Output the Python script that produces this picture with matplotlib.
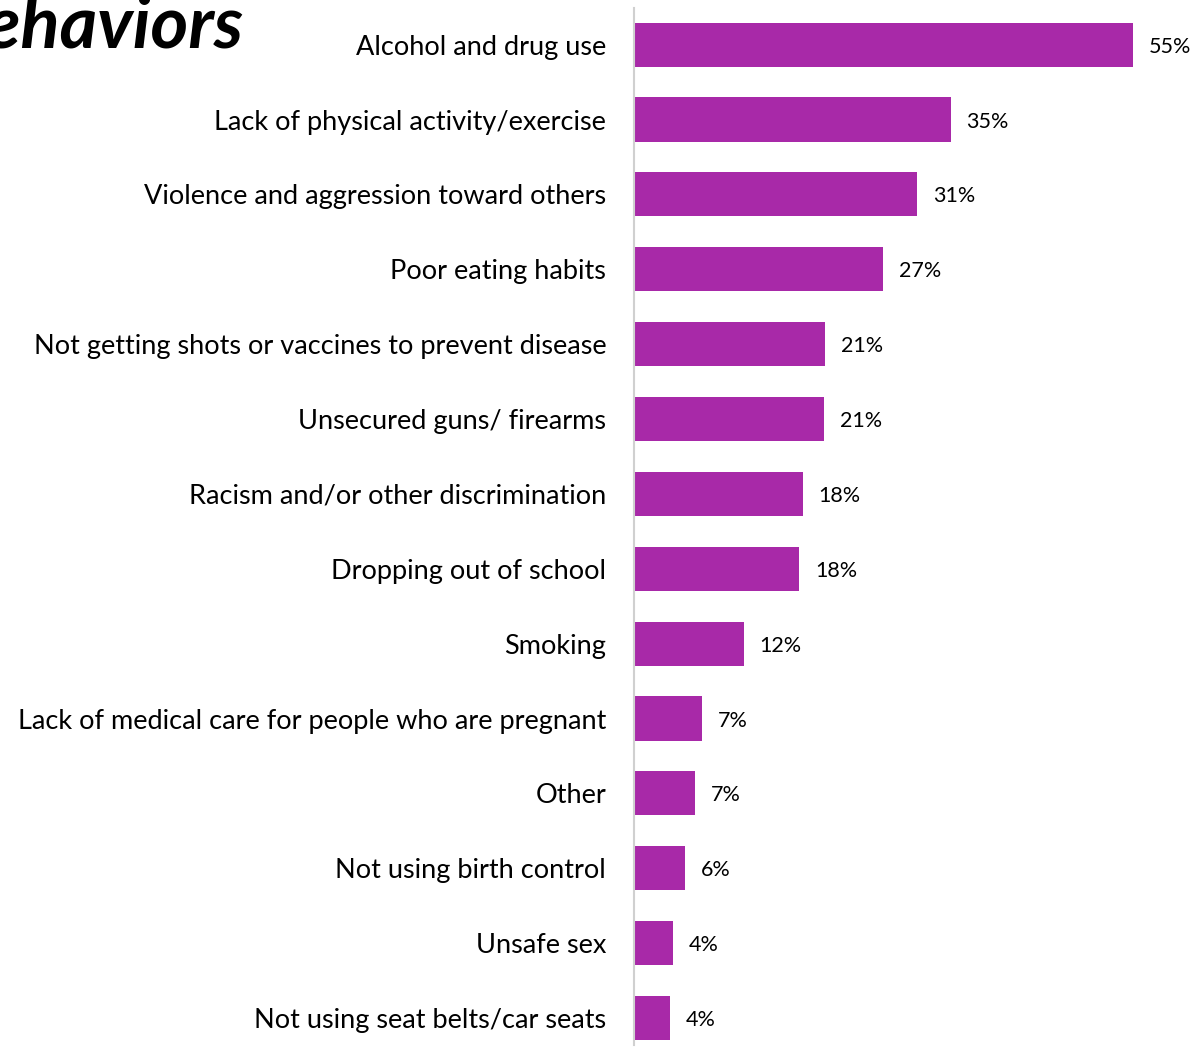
import matplotlib.pyplot as plt

# Données du graphique
categories = ['Alcohol and drug use', 'Lack of physical activity/exercise',
              'Violence and aggression toward others', 'Poor eating habits',
              'Not getting shots or vaccines to prevent disease', 'Unsecured guns/ firearms',
              'Racism and/or other discrimination', 'Dropping out of school', 'Smoking',
              'Lack of medical care for people who are pregnant', 'Other',
              'Not using birth control', 'Unsafe sex', 'Not using seat belts/car seats']
values = [55, 34.9, 31.2, 27.4, 21.1, 20.9, 18.6, 18.2, 12.1, 7.5, 6.7, 5.6, 4.3, 4.0]
labels = ['55%', '35%', '31%', '27%', '21%', '21%', '18%', '18%', '12%', '7%', '7%', '6%', '4%', '4%']

plt.rcParams['font.family'] = ['Lato', 'DejaVu Sans']

fig = plt.figure(figsize=(12, 10.48), dpi=100)
ax = fig.add_axes([0.5283, 0.0029, 0.4717, 0.9895])

y = range(len(categories))
ax.barh(y, values, height=0.59, color='#A829A8')
for i, (v, lab) in enumerate(zip(values, labels)):
    ax.annotate(lab, (v, i), xytext=(16, -2), textcoords='offset pixels',
                va='center', ha='left', fontsize=15.5)

ax.set_yticks(list(y))
ax.set_yticklabels(categories, fontsize=19.5)
ax.tick_params(axis='y', length=0, pad=20)
ax.set_xticks([])
ax.set_xlim(0, 62.4)
ax.set_ylim(13.36, -0.49)
for s in ['top', 'right', 'bottom']:
    ax.spines[s].set_visible(False)
ax.spines['left'].set_color('#D0D0D0')
ax.spines['left'].set_linewidth(1.5)

# Titre coupé en haut à gauche
fig.text(243/1200, 1 - 47/1048, 'Behaviors', ha='right', va='baseline',
         fontsize=52, fontweight='bold', fontstyle='italic')

plt.savefig('out.png', dpi=100)
